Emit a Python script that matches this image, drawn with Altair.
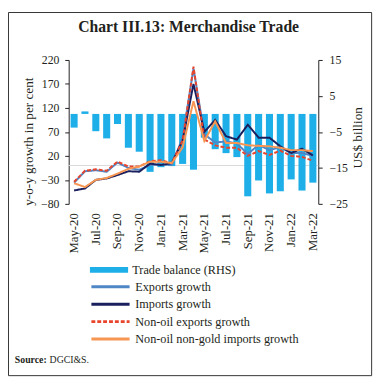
import altair as alt
import pandas as pd

months = ["May-20", "Jun-20", "Jul-20", "Aug-20", "Sep-20", "Oct-20", "Nov-20", "Dec-20",
          "Jan-21", "Feb-21", "Mar-21", "Apr-21", "May-21", "Jun-21", "Jul-21", "Aug-21",
          "Sep-21", "Oct-21", "Nov-21", "Dec-21", "Jan-22", "Feb-22", "Mar-22"]
trade_balance = [-3.8, 0.7, -4.8, -6.8, -2.8, -9.4, -10.5, -16.1, -14.8, -14.5, -13.9, -15.5,
                 -6.6, -9.8, -10.9, -12.0, -22.9, -18.5, -22.1, -21.5, -18.2, -21.3, -19.1]
exports_growth = [-36, -12, -10, -13, 6, -5, -9, 1, 2, 1, 58, 202,
                  65, 48, 50, 46, 24, 43, 32, 38, 26, 26, 20]
imports_growth = [-52, -48, -30, -27, -20, -12, -13, 4, 1, 5, 52, 170,
                  70, 95, 61, 54, 85, 58, 58, 40, 26, 35, 21]
nonoil_exports_growth = [-34, -11, -8, -11, 8, -2, -2, 9, 11, 5, 52, 206,
                         54, 42, 37, 37, 20, 30, 22, 31, 20, 18, 10]
nonoil_nongold_imports_growth = [-37, -45, -30, -26, -17, -7, -2, 8, 8, 5, 38, 134,
                                 51, 92, 47, 47, 42, 41, 40, 37, 32, 32, 30]

bar_name = "Trade balance (RHS)"
line_names = ["Exports growth", "Imports growth", "Non-oil exports growth",
              "Non-oil non-gold imports growth"]
line_values = [exports_growth, imports_growth, nonoil_exports_growth,
               nonoil_nongold_imports_growth]
line_colors = ["#4f86c6", "#1a1f5e", "#e8452c", "#f79552"]
line_dashes = [[1, 0], [1, 0], [4, 2], [1, 0]]
bar_color = "#1eaee8"

FONT = "Liberation Serif"
INK = "#231f20"

bars_df = pd.DataFrame({"month": months, "value": trade_balance, "series": bar_name})
rows = []
for name, vals in zip(line_names, line_values):
    for m, v in zip(months, vals):
        rows.append({"month": m, "series": name, "value": v})
lines_df = pd.DataFrame(rows)

x_enc = alt.X(
    "month:N", sort=months, title=None,
    scale=alt.Scale(paddingInner=0.35, paddingOuter=0.175),
    axis=alt.Axis(values=months[::2], labelAngle=270, labelAlign="right",
                  labelBaseline="middle", labelPadding=9, domain=False, ticks=False,
                  labelFont=FONT, labelFontSize=13, labelColor=INK),
)

zero_rule = alt.Chart(pd.DataFrame({"y": [0]})).mark_rule(
    color="#d9d9d9", strokeWidth=1
).encode(y=alt.Y("y:Q", scale=alt.Scale(domain=[-80, 220], nice=False), axis=None))

bars = alt.Chart(bars_df).mark_bar().encode(
    x=x_enc,
    y=alt.Y("value:Q", title="US$ billion",
            scale=alt.Scale(domain=[-25, 15], nice=False, zero=True),
            axis=alt.Axis(orient="right", values=[-25, -15, -5, 5, 15], grid=False,
                          tickSize=4, labelPadding=7, domainColor=INK, tickColor=INK,
                          labelFont=FONT, labelFontSize=12, labelColor=INK,
                          titleFont=FONT, titleFontSize=13.5, titleFontWeight="normal",
                          titleColor=INK, titleAngle=270, titleBaseline="alphabetic",
                          titleX=44, titleY=79)),
    fill=alt.Fill("series:N", scale=alt.Scale(domain=[bar_name], range=[bar_color]),
                  legend=alt.Legend(title=None, orient="none", legendX=34.7, legendY=207.9,
                                    symbolType="M-3,-0.46H3V0.46H-3Z", symbolSize=169,
                                    symbolStrokeWidth=0, labelOffset=17.3, labelLimit=0,
                                    labelFont=FONT, labelFontSize=12.5, labelColor=INK,
                                    padding=0)),
)

line_legend = alt.Legend(title=None, orient="none", legendX=34.7, legendY=223.7,
                         symbolType="M-3,0H3", symbolSize=169, symbolStrokeWidth=3,
                         labelOffset=17.3, rowPadding=2.8, labelLimit=0,
                         labelFont=FONT, labelFontSize=12.5, labelColor=INK, padding=0)

lines = alt.Chart(lines_df).mark_line(strokeWidth=2).encode(
    x=x_enc,
    y=alt.Y("value:Q", title="y-o-y growth in per cent",
            scale=alt.Scale(domain=[-80, 220], nice=False),
            axis=alt.Axis(orient="left", values=[-80, -30, 20, 70, 120, 170, 220],
                          grid=False, tickSize=4, labelPadding=6, domainColor=INK,
                          tickColor=INK, labelFont=FONT, labelFontSize=12,
                          labelColor=INK, titleFont=FONT, titleFontSize=13.5,
                          titleFontWeight="normal", titleColor=INK,
                          titleBaseline="alphabetic", titleX=-37, titleY=83)),
    stroke=alt.Stroke("series:N", sort=line_names,
                      scale=alt.Scale(domain=line_names, range=line_colors),
                      legend=line_legend),
    strokeDash=alt.StrokeDash("series:N", sort=line_names,
                              scale=alt.Scale(domain=line_names, range=line_dashes),
                              legend=line_legend),
    order=alt.Order("series:N"),
)

frame_df = pd.DataFrame({"k": [0]})
border = alt.Chart(frame_df).mark_rect(fillOpacity=0, stroke="#333333", strokeWidth=1).encode(
    x=alt.value(-61.5), x2=alt.value(309.5), y=alt.value(-48.5), y2=alt.value(322.5)
)
title_text = alt.Chart(frame_df).mark_text(
    text="Chart III.13: Merchandise Trade", font=FONT, fontSize=16, fontWeight="bold",
    align="center", baseline="alphabetic", color=INK
).encode(x=alt.value(122.5), y=alt.value(-28.3))
src_bold = alt.Chart(frame_df).mark_text(
    text="Source:", font=FONT, fontSize=10, fontWeight="bold", align="left",
    baseline="alphabetic", color=INK
).encode(x=alt.value(-55), y=alt.value(309.5))
src_reg = alt.Chart(frame_df).mark_text(
    text="DGCI&S.", font=FONT, fontSize=10, align="left", baseline="alphabetic", color=INK
).encode(x=alt.value(-19.5), y=alt.value(309.5))

chart = alt.layer(zero_rule, bars, lines, border, title_text, src_bold, src_reg).resolve_scale(
    y="independent"
).properties(
    width=255, height=147,
    autosize=alt.AutoSizeParams(type="none"),
    padding={"left": 62, "top": 49, "right": 61, "bottom": 183},
).configure_view(stroke=None)

chart.save("out.html", embed_options={"renderer": "svg", "actions": False})
